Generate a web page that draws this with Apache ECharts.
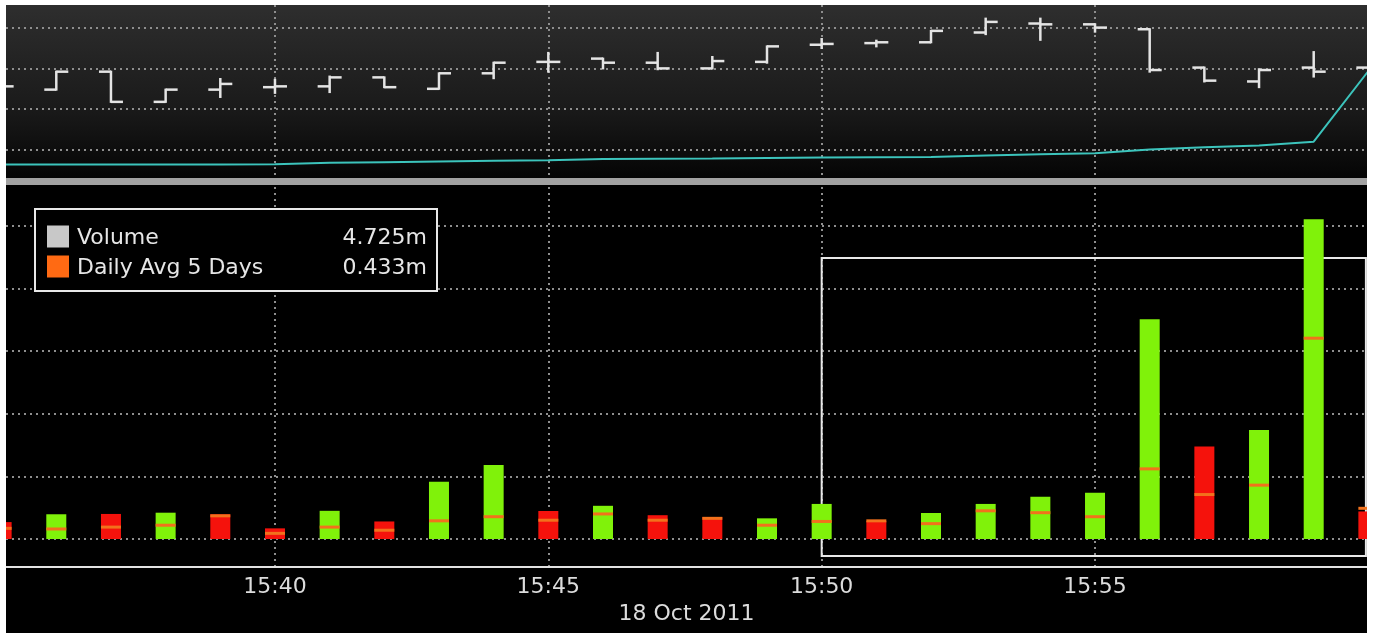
<!DOCTYPE html>
<html>
<head>
<meta charset="utf-8">
<title>Volume 18 Oct 2011</title>
<script src="https://cdn.jsdelivr.net/npm/echarts@6/dist/echarts.min.js"></script>
<style>
    html, body { margin: 0; padding: 0; background: #ffffff; }
    #chart { width: 1375px; height: 633px; }
</style>
</head>
<body>
<div id="chart"></div>
<script>
//-------------------------- 数据 ---------------------------//
// minutes after 15:00 (15:35 ... 16:00)
var minutes = [35, 36, 37, 38, 39, 40, 41, 42, 43, 44, 45, 46, 47, 48, 49, 50, 51, 52, 53, 54, 55, 56, 57, 58, 59, 60];

// price bars (open / high / low / close)
var priceOpen  = [10.078, 10.074, 10.096, 10.059, 10.074, 10.077, 10.078, 10.089, 10.075, 10.094, 10.108, 10.112, 10.107,
                  10.100, 10.108, 10.129, 10.131, 10.132, 10.144, 10.155, 10.154, 10.148, 10.101, 10.084, 10.101, 10.101];
var priceHigh  = [10.080, 10.096, 10.096, 10.074, 10.087, 10.086, 10.090, 10.089, 10.094, 10.107, 10.119, 10.112, 10.119,
                  10.114, 10.127, 10.136, 10.134, 10.146, 10.161, 10.161, 10.154, 10.148, 10.101, 10.099, 10.120, 10.101];
var priceLow   = [10.076, 10.074, 10.059, 10.059, 10.065, 10.070, 10.071, 10.077, 10.075, 10.088, 10.096, 10.100, 10.099,
                  10.100, 10.107, 10.125, 10.127, 10.132, 10.142, 10.135, 10.145, 10.096, 10.084, 10.077, 10.090, 10.098];
var priceClose = [10.078, 10.096, 10.059, 10.074, 10.081, 10.078, 10.089, 10.077, 10.094, 10.107, 10.108, 10.107, 10.100,
                  10.109, 10.127, 10.130, 10.132, 10.146, 10.157, 10.154, 10.150, 10.098, 10.085, 10.098, 10.096, 10.098];

// cyan line in the top panel (own hidden axis)
var trendLine = [13.5, 13.5, 13.5, 13.5, 13.5, 13.7, 15.2, 15.8, 16.5, 17.2, 17.7, 19.0, 19.3,
                 19.6, 20.0, 20.4, 20.7, 21.1, 22.5, 23.8, 24.7, 28.5, 30.8, 32.4, 36.3, 107];

// volume (m) per minute, u = green, d = red
var volume = [0.27, 0.395, 0.40, 0.42, 0.395, 0.17, 0.45, 0.28, 0.915, 1.18, 0.447, 0.53, 0.38,
              0.35, 0.33, 0.56, 0.29, 0.415, 0.56, 0.675, 0.74, 3.51, 1.475, 1.74, 5.107, 0.44];
var volDir = ['d', 'u', 'd', 'u', 'd', 'd', 'u', 'd', 'u', 'u', 'd', 'u', 'd',
              'd', 'u', 'u', 'd', 'u', 'u', 'u', 'u', 'u', 'd', 'u', 'u', 'd'];
// daily average over 5 days (m)
var avg5 = [0.17, 0.16, 0.19, 0.22, 0.37, 0.09, 0.19, 0.14, 0.29, 0.356, 0.30, 0.40, 0.30,
            0.33, 0.22, 0.28, 0.29, 0.245, 0.45, 0.42, 0.356, 1.12, 0.71, 0.86, 3.206, 0.49];

var legendNames = ['Volume', 'Daily Avg 5 Days'];
var legendValues = ['4.725m', '0.433m'];
var dateLabel = '18 Oct 2011';

//-------------------------- 样式 ---------------------------//
var FONT = 'DejaVu Sans';
var GREEN = '#80f20a';
var RED = '#f5120c';
var ORANGE = '#f2711c';
var dotted = { color: '#8e8e8e', width: 2, type: [2, 4] };

var ohlcData = minutes.map(function (m, i) {
    return [m, priceOpen[i], priceHigh[i], priceLow[i], priceClose[i]];
});
var volData = minutes.map(function (m, i) {
    return { value: [m, volume[i]], itemStyle: { color: volDir[i] == 'u' ? GREEN : RED } };
});
var avgData = minutes.map(function (m, i) { return [m, avg5[i]]; });
var lineData = minutes.map(function (m, i) { return [m, trendLine[i]]; });

// open tick left, close tick right
function renderBar(params, api) {
    var x = api.value(0);
    var o = api.coord([x, api.value(1)]);
    var h = api.coord([x, api.value(2)]);
    var l = api.coord([x, api.value(3)]);
    var c = api.coord([x, api.value(4)]);
    var tw = 12;
    var st = { stroke: '#e4e4e4', lineWidth: 2.5 };
    return {
        type: 'group',
        children: [
            { type: 'line', shape: { x1: h[0], y1: h[1] - 1, x2: l[0], y2: l[1] + 1 }, style: st },
            { type: 'line', shape: { x1: o[0] - tw, y1: o[1], x2: o[0], y2: o[1] }, style: st },
            { type: 'line', shape: { x1: c[0], y1: c[1], x2: c[0] + tw, y2: c[1] }, style: st }
        ]
    };
}

var myChart = echarts.init(document.getElementById('chart'));
var option = {
    animation: false,
    backgroundColor: '#ffffff',
    textStyle: { fontFamily: FONT },
    graphic: [
        // panels
        { type: 'rect', z: -10, shape: { x: 6, y: 5, width: 1361, height: 173 },
          style: { fill: new echarts.graphic.LinearGradient(0, 0, 0, 1, [
              { offset: 0, color: '#2e2e2e' }, { offset: 0.6, color: '#1a1a1a' }, { offset: 1, color: '#050505' }]) } },
        { type: 'rect', z: -10, shape: { x: 6, y: 178, width: 1361, height: 7 }, style: { fill: '#a2a2a2' } },
        { type: 'rect', z: -10, shape: { x: 6, y: 185, width: 1361, height: 448 }, style: { fill: '#000000' } },
        // white page margins
        { type: 'rect', z: 100, shape: { x: 0, y: 0, width: 1375, height: 5 }, style: { fill: '#ffffff' } },
        { type: 'rect', z: 100, shape: { x: 0, y: 0, width: 6, height: 633 }, style: { fill: '#ffffff' } },
        { type: 'rect', z: 100, shape: { x: 1367, y: 0, width: 8, height: 633 }, style: { fill: '#ffffff' } }
    ],
    legend: {
        left: 35,
        top: 209,
        orient: 'vertical',
        padding: [15, 10, 12, 12],
        itemWidth: 22,
        itemHeight: 22,
        itemGap: 5,
        icon: 'rect',
        selectedMode: false,
        backgroundColor: '#000000',
        borderColor: '#e8e8e8',
        borderWidth: 2,
        data: [
            { name: legendNames[0], itemStyle: { color: '#c8c8c8' } },
            { name: legendNames[1], itemStyle: { color: '#ff6a13' } }
        ],
        formatter: function (name) {
            return '{n|' + name + '}{v|' + legendValues[legendNames.indexOf(name)] + '}';
        },
        textStyle: {
            color: '#e6e6e6',
            fontSize: 22,
            fontFamily: FONT,
            rich: {
                n: { width: 250, fontSize: 22, lineHeight: 22, color: '#e6e6e6', fontFamily: FONT, padding: [3, 0, 0, 3] },
                v: { width: 100, align: 'right', fontSize: 22, lineHeight: 22, color: '#e6e6e6', fontFamily: FONT, padding: [3, 0, 0, 0] }
            }
        }
    },
    grid: [
        { left: 6, right: 8, top: 5, height: 173 },
        { left: 6, right: 8, top: 187, bottom: 66 }
    ],
    xAxis: [{
        gridIndex: 0,
        type: 'value',
        min: 35.08,
        max: 59.975,
        splitNumber: 5,
        axisLine: { show: false, onZero: false },
        axisTick: { show: false },
        axisLabel: { show: false },
        splitLine: { show: true, showMinLine: false, showMaxLine: false, lineStyle: dotted }
    }, {
        gridIndex: 1,
        type: 'value',
        min: 35.08,
        max: 59.975,
        splitNumber: 5,
        name: dateLabel,
        nameLocation: 'middle',
        nameGap: 36,
        nameTextStyle: { color: '#dcdcdc', fontSize: 22, fontFamily: FONT },
        axisLine: { show: true, onZero: false, lineStyle: { color: '#e2e2e2', width: 2 } },
        axisTick: { show: false },
        axisLabel: {
            color: '#dcdcdc',
            fontSize: 22,
            fontFamily: FONT,
            margin: 9,
            showMinLabel: false,
            showMaxLabel: false,
            formatter: function (v) { return '15:' + v; }
        },
        splitLine: { show: true, showMinLine: false, showMaxLine: false, lineStyle: dotted }
    }],
    yAxis: [{
        gridIndex: 0,
        type: 'value',
        min: 9.9657,
        max: 10.1777,
        position: 'right',
        axisLine: { show: false },
        axisTick: { show: false },
        axisLabel: { show: false },
        splitLine: { show: true, showMinLine: false, showMaxLine: false, lineStyle: dotted }
    }, {
        gridIndex: 0,
        type: 'value',
        min: 0,
        max: 173,
        show: false,
        splitLine: { show: false }
    }, {
        gridIndex: 1,
        type: 'value',
        min: -0.447,
        max: 5.62,
        position: 'right',
        axisLine: { show: false },
        axisTick: { show: false },
        axisLabel: { show: false },
        splitLine: { show: true, showMinLine: false, showMaxLine: false, lineStyle: dotted }
    }],
    series: [{
        name: 'Price',
        type: 'custom',
        xAxisIndex: 0,
        yAxisIndex: 0,
        renderItem: renderBar,
        encode: { x: 0, y: [1, 2, 3, 4] },
        data: ohlcData,
        z: 3
    }, {
        name: 'Trend',
        type: 'line',
        xAxisIndex: 0,
        yAxisIndex: 1,
        showSymbol: false,
        lineStyle: { color: '#3cc4bc', width: 2 },
        data: lineData,
        z: 2
    }, {
        name: legendNames[0],
        type: 'bar',
        xAxisIndex: 1,
        yAxisIndex: 2,
        barWidth: 20,
        itemStyle: { color: GREEN },
        data: volData
    }, {
        name: legendNames[1],
        type: 'scatter',
        xAxisIndex: 1,
        yAxisIndex: 2,
        symbol: 'rect',
        symbolSize: [20, 3],
        clip: false,
        itemStyle: { color: ORANGE, opacity: 1 },
        data: avgData,
        z: 4,
        // white zoom box from 15:50 to the right edge
        markArea: {
            silent: true,
            itemStyle: { color: 'rgba(0,0,0,0)', borderColor: '#e8e8e8', borderWidth: 2 },
            data: [[{ coord: [50, -0.271] }, { coord: [59.955, 4.487] }]]
        }
    }]
};
myChart.setOption(option);
</script>
</body>
</html>
